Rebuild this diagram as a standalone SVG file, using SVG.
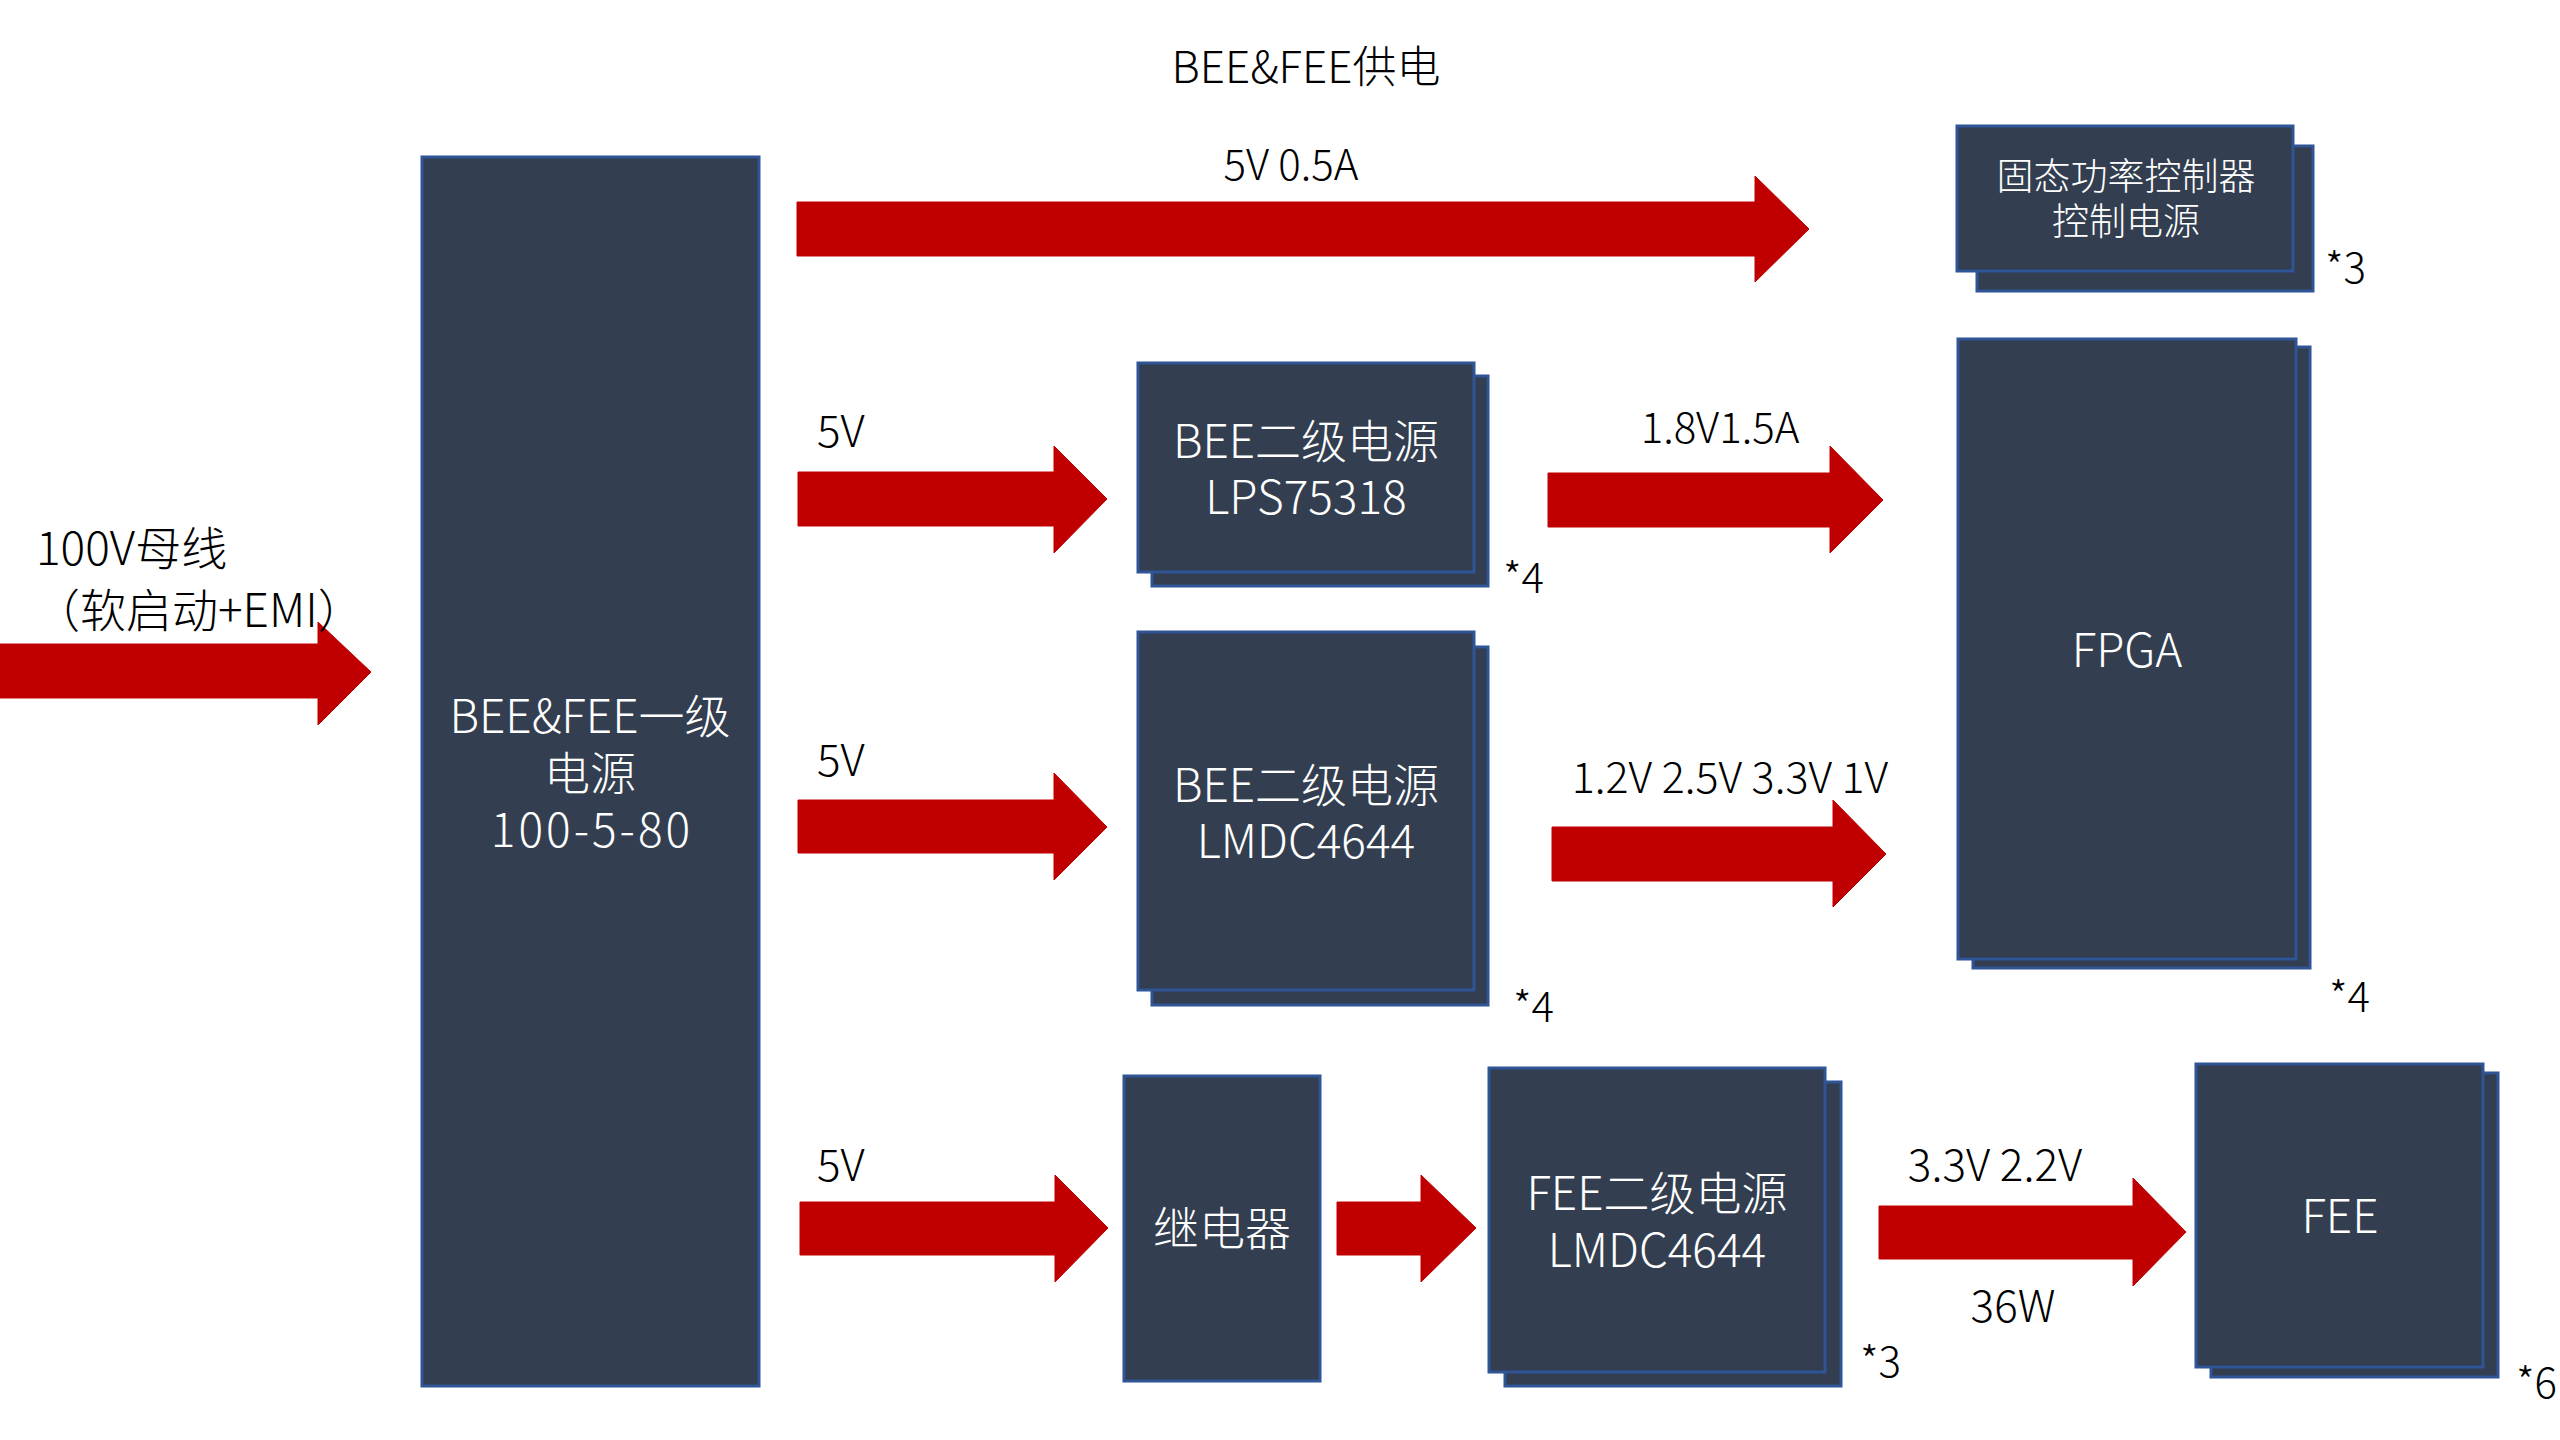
<svg xmlns="http://www.w3.org/2000/svg" width="2560" height="1440" viewBox="0 0 2560 1440">
<style>
.box{fill:#333F50;stroke:#2F5597;stroke-width:3}
.arr{fill:#C00000;stroke:#C00000;stroke-width:1}
.t{font-family:"Noto Sans CJK SC","Noto Sans",sans-serif;font-weight:300}
.w{fill:#FFFFFF;font-size:46px;text-anchor:middle}
.k{fill:#000000}
.lab{font-size:42px}
.mul{font-size:42px}
</style>
<rect x="0" y="0" width="2560" height="1440" fill="#FFFFFF"/>
<text class="t k" x="1306" y="83" font-size="44" text-anchor="middle">BEE&amp;FEE供电</text>
<g id="connectors">
<polygon class="arr" points="0,644 318,644 318,622 371,672 318,725 318,698 0,698"/>
<polygon class="arr" points="797,202 1755,202 1755,176 1809,229 1755,282 1755,256 797,256"/>
<polygon class="arr" points="798,472 1054,472 1054,446 1107,499 1054,553 1054,526 798,526"/>
<polygon class="arr" points="1548,473 1830,473 1830,446 1883,500 1830,553 1830,527 1548,527"/>
<polygon class="arr" points="798,800 1054,800 1054,773 1107,827 1054,880 1054,853 798,853"/>
<polygon class="arr" points="1552,827 1833,827 1833,800 1886,854 1833,907 1833,881 1552,881"/>
<polygon class="arr" points="800,1202 1055,1202 1055,1175 1108,1228 1055,1282 1055,1255 800,1255"/>
<polygon class="arr" points="1337,1202 1421,1202 1421,1175 1476,1228 1421,1282 1421,1255 1337,1255"/>
<polygon class="arr" points="1879,1206 2133,1206 2133,1178 2186,1232 2133,1286 2133,1259 1879,1259"/>
<text class="t k" font-size="46"><tspan x="36" y="565">100V母线</tspan><tspan x="34" y="627">（软启动+EMI）</tspan></text>
<text class="t k lab" x="1291" y="180" text-anchor="middle">5V 0.5A</text>
<text class="t k" x="817" y="447" font-size="44">5V</text>
<text class="t k" x="817" y="776" font-size="44">5V</text>
<text class="t k" x="817" y="1181" font-size="44">5V</text>
<text class="t k lab" x="1720" y="443" text-anchor="middle">1.8V1.5A</text>
<text class="t k" x="1730" y="793" font-size="43" text-anchor="middle">1.2V 2.5V 3.3V 1V</text>
<text class="t k" x="1995" y="1181" font-size="44" text-anchor="middle">3.3V 2.2V</text>
<text class="t k" x="2013" y="1322" font-size="44" text-anchor="middle">36W</text>
</g>
<g id="main">
<rect class="box" x="422" y="157" width="337" height="1229"/>
<text class="t w"><tspan x="590" y="733">BEE&amp;FEE一级</tspan><tspan x="590" y="790">电源</tspan><tspan x="592" y="847" letter-spacing="3">100-5-80</tspan></text>
</g>
<g id="sspc">
<rect class="box" x="1977" y="146" width="336" height="145"/>
<rect class="box" x="1957" y="126" width="336" height="145"/>
<text class="t w" style="font-size:37px"><tspan x="2126" y="190">固态功率控制器</tspan><tspan x="2126" y="235">控制电源</tspan></text>
<text class="t k mul" x="2325" y="283">*3</text>
</g>
<g id="bee-lps">
<rect class="box" x="1152" y="376" width="336" height="210"/>
<rect class="box" x="1138" y="363" width="336" height="209"/>
<text class="t w"><tspan x="1306" y="458">BEE二级电源</tspan><tspan x="1306" y="514">LPS75318</tspan></text>
<text class="t k mul" x="1503" y="593">*4</text>
</g>
<g id="bee-lmdc">
<rect class="box" x="1152" y="647" width="336" height="358"/>
<rect class="box" x="1138" y="632" width="336" height="358"/>
<text class="t w"><tspan x="1306" y="802">BEE二级电源</tspan><tspan x="1306" y="858">LMDC4644</tspan></text>
<text class="t k mul" x="1513" y="1022">*4</text>
</g>
<g id="fpga">
<rect class="box" x="1973" y="347" width="337" height="621"/>
<rect class="box" x="1958" y="339" width="338" height="620"/>
<text class="t w" x="2127" y="667">FPGA</text>
<text class="t k mul" x="2329" y="1012">*4</text>
</g>
<g id="relay">
<rect class="box" x="1124" y="1076" width="196" height="305"/>
<text class="t w" x="1222" y="1245">继电器</text>
</g>
<g id="fee-psu">
<rect class="box" x="1505" y="1082" width="336" height="304"/>
<rect class="box" x="1489" y="1068" width="336" height="304"/>
<text class="t w"><tspan x="1657" y="1210">FEE二级电源</tspan><tspan x="1657" y="1267">LMDC4644</tspan></text>
<text class="t k mul" x="1860" y="1377">*3</text>
</g>
<g id="fee">
<rect class="box" x="2211" y="1073" width="287" height="304"/>
<rect class="box" x="2196" y="1064" width="287" height="303"/>
<text class="t w" x="2340" y="1233">FEE</text>
<text class="t k mul" x="2516" y="1398">*6</text>
</g>
</svg>
